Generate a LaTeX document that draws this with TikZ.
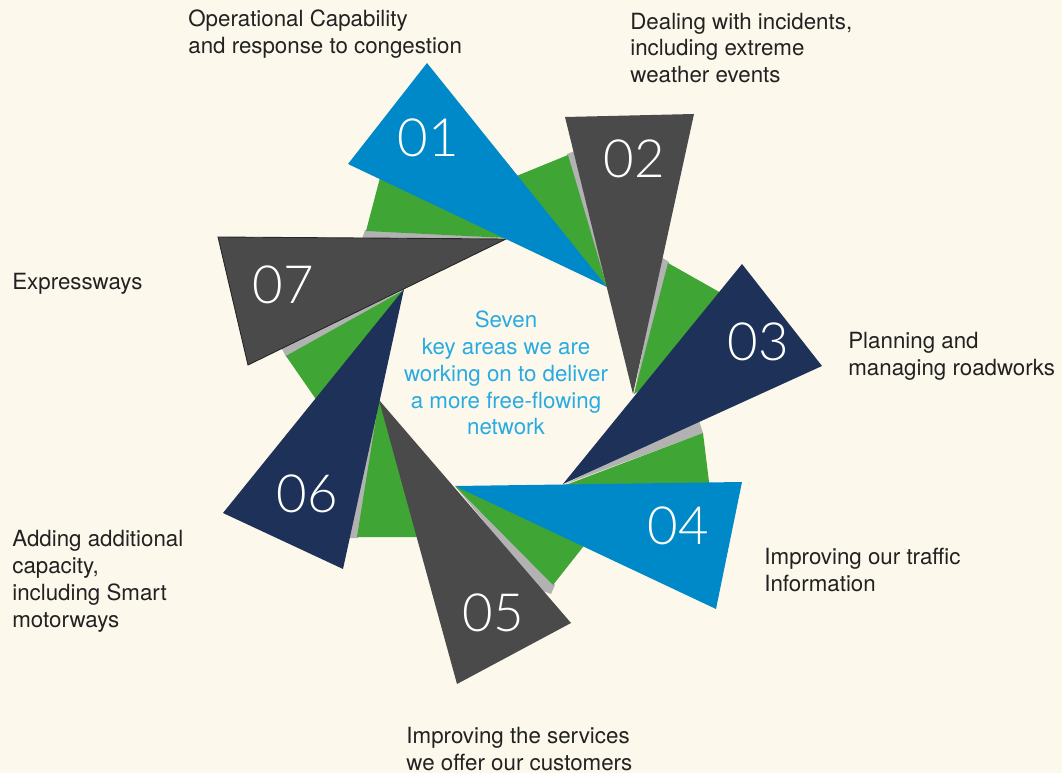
\documentclass[tikz,border=0pt]{standalone}
\usepackage{fontspec}
\setmainfont{TeX Gyre Heros}
\newfontfamily\numfont{Lato Light}
\usepackage{tikz}

\definecolor{fond}{RGB}{253,248,236}
\definecolor{bleu}{RGB}{0,137,200}
\definecolor{marine}{RGB}{30,49,89}
\definecolor{ardoise}{RGB}{74,74,74}
\definecolor{vert}{RGB}{63,165,53}
\definecolor{gris}{RGB}{178,178,178}
\definecolor{ciel}{RGB}{41,171,226}
\definecolor{texte}{RGB}{34,34,34}

\newcommand{\numsize}{\numfont\fontsize{30}{30}\selectfont}
\newcommand{\labsize}{\fontsize{12.7}{15.3}\selectfont}

\tikzset{
  pale/.style={fill=#1, draw=none},
  num/.style={white, font=\numsize, inner sep=0pt},
  lab/.style={texte, font=\labsize, align=left, anchor=west, inner sep=0pt},
}

\begin{document}
\begin{tikzpicture}[x=0.02cm, y=-0.02cm]

        % fond
        \fill[fond] (0, 0) rectangle (1062, 773);
        \useasboundingbox (0, 0) rectangle (1062, 773);

        % bandes grises
        \draw[pale=gris] (362, 239) -- (365, 230) -- (506, 238) -- cycle;
        \draw[pale=gris] (567, 154) -- (575, 151) -- (607, 287) -- cycle;
        \draw[pale=gris] (661, 257) -- (669, 262) -- (634, 394) -- cycle;
        \draw[pale=gris] (698, 418) -- (703, 433) -- (563, 485) -- cycle;
        \draw[pale=gris] (455, 486) -- (555, 585) -- (551, 594) -- (540, 590) -- cycle;
        \draw[pale=gris] (379, 398) -- (358, 538) -- (349, 538) -- cycle;
        \draw[pale=gris] (281, 347) -- (286, 357) -- (404, 290) -- cycle;

        % triangles verts
        \draw[pale=vert] (366, 231) -- (386, 155) -- (506, 238) -- cycle;
        \draw[pale=vert] (568, 155) -- (607, 287) -- (470, 195) -- cycle;
        \draw[pale=vert] (668, 263) -- (760, 315) -- (634, 394) -- cycle;
        \draw[pale=vert] (703, 433) -- (710, 490) -- (563, 486) -- cycle;
        \draw[pale=vert] (456, 487) -- (613, 509) -- (553, 585) -- cycle;
        \draw[pale=vert] (379, 399) -- (357, 537) -- (430, 537) -- cycle;
        \draw[pale=vert] (286, 356) -- (404, 290) -- (340, 434) -- cycle;

        % pales
        \draw[pale=ardoise, draw=black!85, line width=0.5pt] (218, 237) -- (506, 239) -- (248, 365) -- cycle;
        \draw[pale=bleu] (427, 63) -- (348, 164) -- (607, 287) -- cycle;
        \draw[pale=ardoise] (565, 117) -- (694, 114) -- (633, 394) -- cycle;
        \draw[pale=marine] (742, 264) -- (822, 366) -- (563, 484) -- cycle;
        \draw[pale=bleu] (455, 486) -- (742, 482) -- (716, 609) -- cycle;
        \draw[pale=ardoise] (379, 400) -- (571, 623) -- (457, 684) -- cycle;
        \draw[pale=marine] (404, 289) -- (343, 569) -- (223, 513) -- cycle;

        % numeros
        \node[num] (n1) at (428, 138) {01};
        \node[num] (n2) at (634, 159) {02};
        \node[num] (n3) at (758, 342) {03};
        \node[num] (n4) at (678, 526) {04};
        \node[num] (n5) at (493, 613) {05};
        \node[num] (n6) at (307, 494) {06};
        \node[num] (n7) at (283, 285) {07};

        % centre
        \node[ciel, font=\labsize, align=center, inner sep=0pt] (c) at (506, 373)
          {Seven\\key areas we are\\working on to deliver\\a more free-flowing\\network};

        % legendes
        \node[lab] (l1) at (188, 34) {Operational Capability\\and response to congestion};
        \node[lab] (l2) at (630, 48) {Dealing with incidents,\\including extreme\\weather events};
        \node[lab] (l3) at (848, 356) {Planning and\\managing roadworks};
        \node[lab] (l4) at (764, 570) {Improving our traffic\\Information};
        \node[lab] (l5) at (406, 749) {Improving the services\\we offer our customers};
        \node[lab] (l6) at (12, 581) {Adding additional\\capacity,\\including Smart\\motorways};
        \node[lab] (l7) at (12, 284) {Expressways};

\end{tikzpicture}
\end{document}
